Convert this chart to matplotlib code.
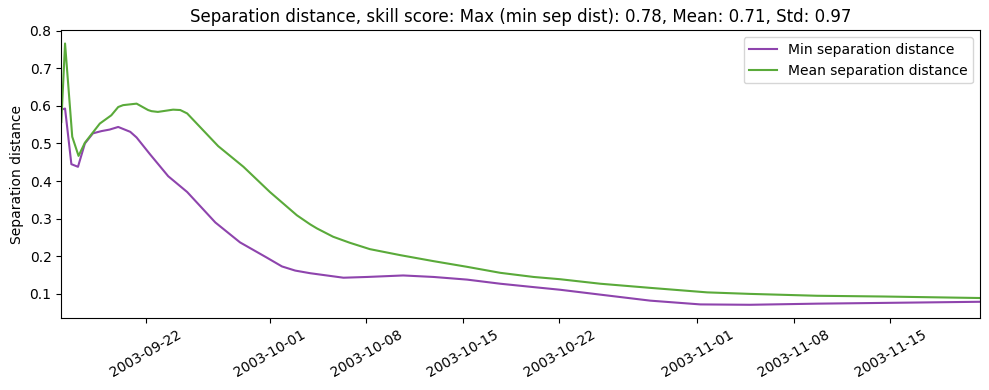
import matplotlib
matplotlib.use("Agg")
import matplotlib.pyplot as plt
import pandas as pd

min_dates = ["2003-09-15 21:00", "2003-09-16 03:30", "2003-09-16 14:30", "2003-09-17 02:00",
             "2003-09-17 14:00", "2003-09-18 04:00", "2003-09-18 19:00", "2003-09-19 09:00",
             "2003-09-20 00:00", "2003-09-20 21:00", "2003-09-21 08:00", "2003-09-22 07:00",
             "2003-09-23 15:00", "2003-09-25 00:00", "2003-09-27 01:00", "2003-09-28 20:00",
             "2003-09-30 18:00", "2003-10-01 21:00", "2003-10-02 20:00", "2003-10-03 22:00",
             "2003-10-06 08:00", "2003-10-08 01:00", "2003-10-10 16:00", "2003-10-12 21:00",
             "2003-10-15 07:00", "2003-10-17 17:00", "2003-10-20 03:00", "2003-10-22 01:00",
             "2003-10-24 23:00", "2003-10-28 14:00", "2003-11-01 05:00", "2003-11-04 19:00",
             "2003-11-09 16:00", "2003-11-14 12:00", "2003-11-21 12:00"]
min_sep = [0.590, 0.593, 0.445, 0.438,
           0.500, 0.527, 0.533, 0.537,
           0.544, 0.531, 0.516, 0.472,
           0.413, 0.371, 0.290, 0.237,
           0.197, 0.173, 0.162, 0.155,
           0.143, 0.145, 0.149, 0.145,
           0.138, 0.127, 0.118, 0.111,
           0.098, 0.082, 0.072, 0.071,
           0.074, 0.076, 0.079]

mean_dates = ["2003-09-15 21:00", "2003-09-16 03:30", "2003-09-16 16:00", "2003-09-17 03:00",
              "2003-09-17 14:00", "2003-09-18 16:00", "2003-09-19 12:00", "2003-09-20 00:00",
              "2003-09-20 08:30", "2003-09-21 08:00", "2003-09-22 04:00", "2003-09-22 10:00",
              "2003-09-22 21:00", "2003-09-23 23:30", "2003-09-24 12:00", "2003-09-25 00:00",
              "2003-09-27 06:00", "2003-09-29 02:00", "2003-10-01 00:00", "2003-10-02 23:00",
              "2003-10-03 22:00", "2003-10-04 10:00", "2003-10-05 14:00", "2003-10-06 19:00",
              "2003-10-08 06:00", "2003-10-10 11:00", "2003-10-12 21:00", "2003-10-15 07:00",
              "2003-10-17 17:00", "2003-10-20 03:00", "2003-10-22 01:00", "2003-10-24 23:00",
              "2003-10-28 14:00", "2003-11-01 17:00", "2003-11-04 19:00", "2003-11-09 16:00",
              "2003-11-14 12:00", "2003-11-21 12:00"]
mean_sep = [0.557, 0.766, 0.518, 0.467,
            0.502, 0.553, 0.575, 0.597,
            0.602, 0.606, 0.589, 0.586,
            0.584, 0.590, 0.589, 0.580,
            0.493, 0.438, 0.371, 0.309,
            0.285, 0.274, 0.252, 0.236,
            0.219, 0.203, 0.187, 0.172,
            0.156, 0.145, 0.139, 0.127,
            0.116, 0.104, 0.100, 0.095,
            0.093, 0.089]

title = "Separation distance, skill score: Max (min sep dist): 0.78, Mean: 0.71, Std: 0.97"

t_min = pd.to_datetime(min_dates)
t_mean = pd.to_datetime(mean_dates)

fig, ax = plt.subplots(figsize=(9.89, 3.9), dpi=100)
ax.plot(t_min, min_sep, color="#8e44ad", lw=1.5, label="Min separation distance")
ax.plot(t_mean, mean_sep, color="#5aaa3a", lw=1.5, label="Mean separation distance")
ax.set_xlim(min(t_min[0], t_mean[0]), max(t_min[-1], t_mean[-1]))
ax.set_ylabel("Separation distance")
ax.set_title(title)
ax.legend(loc="upper right")
plt.setp(ax.get_xticklabels(), rotation=30)
fig.subplots_adjust(left=0.062, right=0.991, top=0.922, bottom=0.185)
fig.savefig("out.png", dpi=100)
